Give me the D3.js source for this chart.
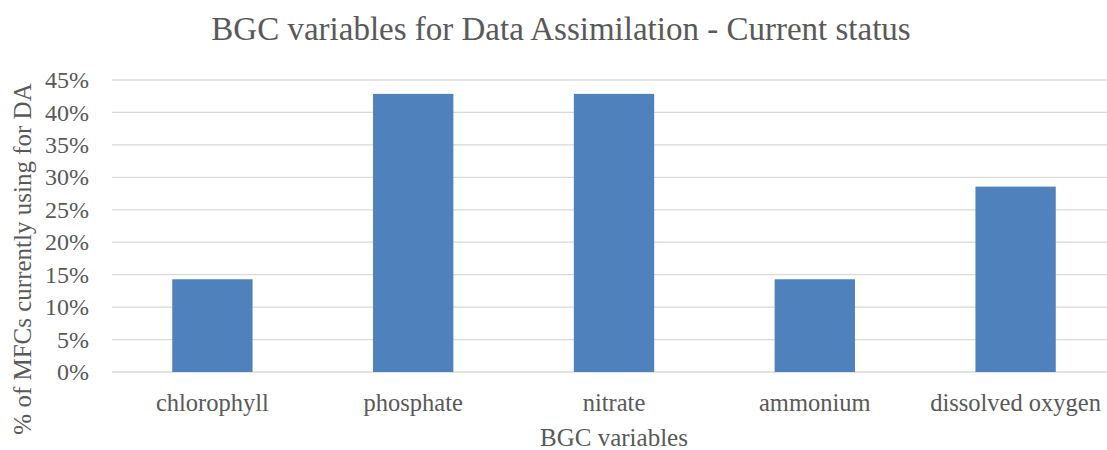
<!DOCTYPE html>
<html>
<head>
<meta charset="utf-8">
<script src="https://cdn.jsdelivr.net/npm/d3@7"></script>
<style>
  body { margin: 0; background: #fff; }
  text { font-family: "Liberation Serif", serif; fill: #595959; }
</style>
</head>
<body>
<svg id="chart" width="1107" height="450"></svg>
<script>
const categories = ["chlorophyll", "phosphate", "nitrate", "ammonium", "dissolved oxygen"];
const values = [14.29, 42.86, 42.86, 14.29, 28.57];
const yTicks = [0, 5, 10, 15, 20, 25, 30, 35, 40, 45];

const svg = d3.select("#chart");
const plot = { left: 112, right: 1116, top: 80, bottom: 372 };

const x = d3.scaleBand()
  .domain(categories)
  .range([plot.left, plot.right])
  .paddingInner(0.6)
  .paddingOuter(0.3);

const y = d3.scaleLinear()
  .domain([0, 45])
  .range([plot.bottom, plot.top]);

// gridlines
svg.append("g")
  .selectAll("line")
  .data(yTicks)
  .join("line")
  .attr("x1", plot.left)
  .attr("x2", plot.right)
  .attr("y1", d => y(d))
  .attr("y2", d => y(d))
  .attr("stroke", "#d9d9d9")
  .attr("stroke-width", 1.3);

// bars
svg.append("g")
  .selectAll("rect")
  .data(values)
  .join("rect")
  .attr("x", (d, i) => x(categories[i]))
  .attr("y", d => y(d))
  .attr("width", x.bandwidth())
  .attr("height", d => y(0) - y(d))
  .attr("fill", "#4f81bd");

// y axis labels
svg.append("g")
  .selectAll("text")
  .data(yTicks)
  .join("text")
  .attr("x", 89)
  .attr("y", d => y(d))
  .attr("dy", "0.34em")
  .attr("text-anchor", "end")
  .attr("font-size", 24)
  .text(d => d + "%");

// x axis labels
svg.append("g")
  .selectAll("text")
  .data(categories)
  .join("text")
  .attr("x", d => x(d) + x.bandwidth() / 2)
  .attr("y", 411)
  .attr("text-anchor", "middle")
  .attr("font-size", 24.5)
  .text(d => d);

svg.append("text")
  .attr("x", 561)
  .attr("y", 40)
  .attr("text-anchor", "middle")
  .attr("font-size", 33)
  .text("BGC variables for Data Assimilation - Current status");

svg.append("text")
  .attr("x", (plot.left + plot.right) / 2)
  .attr("y", 446)
  .attr("text-anchor", "middle")
  .attr("font-size", 25)
  .text("BGC variables");

svg.append("text")
  .attr("transform", "translate(31,259) rotate(-90)")
  .attr("text-anchor", "middle")
  .attr("font-size", 25)
  .text("% of MFCs currently using for DA");
</script>
</body>
</html>
